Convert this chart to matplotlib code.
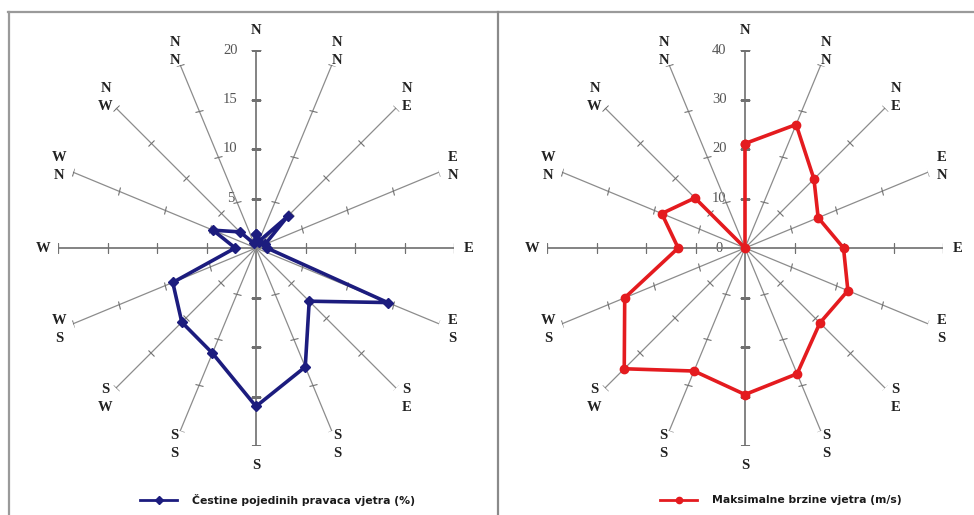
import numpy as np
import matplotlib
matplotlib.use("Agg")
import matplotlib.pyplot as plt
from matplotlib.lines import Line2D
from matplotlib.markers import MarkerStyle
from matplotlib.transforms import Affine2D

# 16 wind directions, clockwise from north
directions = ["N", "NNE", "NE", "ENE", "E", "ESE", "SE", "SSE",
              "S", "SSW", "SW", "WSW", "W", "WNW", "NW", "NNW"]
dir_labels = ["N", "N\nN", "N\nE", "E\nN", "E", "E\nS", "S\nE", "S\nS",
              "S", "S\nS", "S\nW", "W\nS", "W", "W\nN", "N\nW", "N\nN"]

# frequency of wind directions (%)
freq = [1.4, 0.7, 4.5, 1.0, 1.1, 14.4, 7.6, 13.0,
        16.0, 11.5, 10.6, 9.1, 2.1, 4.7, 2.3, 0.5]
freq_ticks = [5, 10, 15, 20]
freq_label_pos = [5, 10, 15, 20]
freq_tick_labels = ["5", "10", "15", "20"]

# maximum wind speeds (m/s)
speed = [21.1, 27.0, 19.7, 16.0, 19.9, 22.5, 21.4, 27.5,
         29.6, 26.9, 34.5, 26.3, 13.5, 18.2, 14.3, 0.0]
speed_ticks = [10, 20, 30, 40]
speed_label_pos = [0, 10, 20, 30, 40]
speed_tick_labels = ["0", "10", "20", "30", "40"]

legend_freq = "Čestine pojedinih pravaca vjetra (%)"
legend_speed = "Maksimalne brzine vjetra (m/s)"

W, H = 974, 515
fig = plt.figure(figsize=(W / 100, H / 100), dpi=100)
fig.patch.set_facecolor("white")

angles_deg = np.arange(16) * 22.5
angles = np.deg2rad(angles_deg)


def radar(cx, rmax, ticks, label_pos, tick_labels, values, color, marker, msize):
    rpx = 198
    cy = 248
    ax = fig.add_axes([(cx - rpx) / W, (H - cy - rpx) / H, 2 * rpx / W, 2 * rpx / H],
                      projection="polar")
    ax.set_theta_zero_location("N")
    ax.set_theta_direction(-1)
    ax.set_ylim(0, rmax)
    ax.set_axis_off()

    # spokes with cross ticks
    for i, (a, d) in enumerate(zip(angles, angles_deg)):
        main = i % 4 == 0
        ax.plot([a, a], [0, rmax], color="#7a7a7a" if main else "#8c8c8c",
                lw=1.3 if main else 0.9, zorder=1)
        m = MarkerStyle("_", transform=Affine2D().rotate_deg(-d))
        ax.plot([a] * len(ticks), ticks, ls="none", marker=m,
                markersize=7.5 if main else 5.5,
                markeredgewidth=0.9 if main else 0.8,
                color="#707070", zorder=1)
        # direction label
        fac = 1.1 if d in (0, 180) else 1.075
        ax.text(a, rmax * fac, dir_labels[i], ha="center", va="center",
                family="Liberation Serif", fontweight="bold", fontsize=10.5,
                linespacing=1.5, color="#222222", clip_on=False)

    # numeric tick labels on the north axis
    for t, lab in zip(label_pos, tick_labels):
        ax.annotate(lab, (0, t), xytext=(-18.5, 0), textcoords="offset points",
                    ha="center", va="center", family="Liberation Serif",
                    fontsize=10.5, color="#555555", zorder=0)

    th = np.append(angles, angles[0])
    vals = np.append(values, values[0])
    ax.plot(th, vals, color=color, lw=2.6, marker=marker, markersize=msize,
            zorder=3, clip_on=False)
    return ax


radar(256, 20, freq_ticks, freq_label_pos, freq_tick_labels, freq,
      "#1c1c7e", "D", 5)
radar(745, 40, speed_ticks, speed_label_pos, speed_tick_labels, speed,
      "#e41b1f", "o", 6)

# legends
for x0, text, color, marker, ms in [(140, legend_freq, "#1c1c7e", "D", 4),
                                    (660, legend_speed, "#e41b1f", "o", 4.5)]:
    y = (H - 500) / H
    fig.add_artist(Line2D([x0 / W, (x0 + 37) / W], [y, y], color=color, lw=2))
    fig.add_artist(Line2D([(x0 + 18.5) / W], [y], color=color, marker=marker,
                          markersize=ms, ls="none"))
    fig.text((x0 + 52) / W, y, text, ha="left", va="center", fontsize=7.8,
             family="DejaVu Sans", fontweight="bold", color="#1a1a1a")

# panel frame lines
ytop = 1 - 12 / H
fig.add_artist(Line2D([8 / W, 1], [ytop, ytop], color="#9a9a9a", lw=1.6))
fig.add_artist(Line2D([9 / W, 9 / W], [0, ytop], color="#9a9a9a", lw=1.6))
fig.add_artist(Line2D([498 / W, 498 / W], [0, ytop], color="#8a8a8a", lw=1.6))

fig.savefig("out.png", dpi=100)
